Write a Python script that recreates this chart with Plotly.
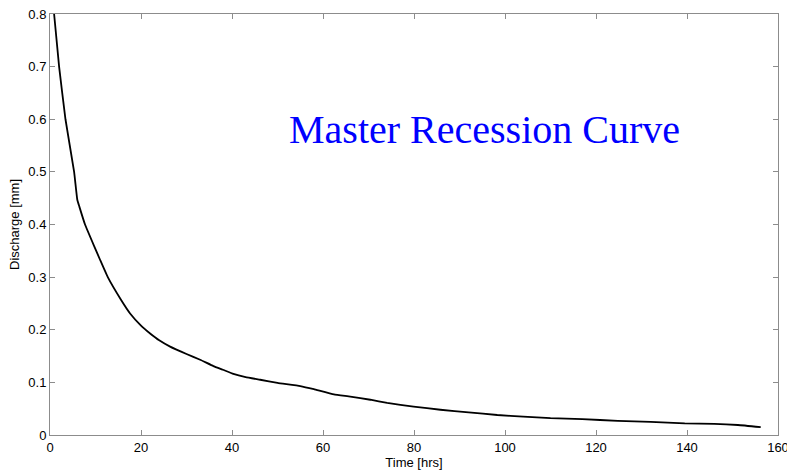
import plotly.graph_objects as go

time_hrs = [0.9, 2.0, 3.4, 5.3, 6.0, 6.45, 7.7, 9.75, 11.0, 12.7, 15.6, 17.6, 20.0, 22.0, 24.0,
            26.4, 30.0, 33.0, 35.9, 38.0, 40.3, 43.0, 46.2, 50.0, 55.0, 58.0, 62.4, 66.0,
            70.4, 74.1, 79.9, 85.8, 92.0, 98.3, 104.0, 110.0, 117.0, 124.8, 132.0, 139.5,
            146.0, 151.2, 156.2]
discharge_mm = [0.800, 0.700, 0.600, 0.500, 0.447, 0.434, 0.400, 0.358, 0.333, 0.300, 0.257,
                0.231, 0.208, 0.193, 0.180, 0.168, 0.154, 0.143, 0.131, 0.124, 0.116, 0.110,
                0.105, 0.099, 0.093, 0.087, 0.077, 0.073, 0.067, 0.061, 0.054, 0.048, 0.043,
                0.038, 0.035, 0.032, 0.030, 0.027, 0.025, 0.022, 0.021, 0.019, 0.015]

x_ticks = [0, 20, 40, 60, 80, 100, 120, 140, 160]
y_ticks = [0, 0.1, 0.2, 0.3, 0.4, 0.5, 0.6, 0.7, 0.8]
y_tick_text = ["0", "0.1", "0.2", "0.3", "0.4", "0.5", "0.6", "0.7", "0.8"]

fig = go.Figure()
fig.add_trace(go.Scatter(x=time_hrs, y=discharge_mm, mode="lines",
                         line=dict(color="black", width=1.8, shape="spline", smoothing=0.3),
                         showlegend=False, cliponaxis=True))

fig.add_annotation(x=95.5, y=0.58, xref="x", yref="y", text="Master Recession Curve",
                   showarrow=False, font=dict(family="Liberation Serif", size=40, color="#0000ff"))

axis_common = dict(showline=True, linecolor="#8c8c8c", linewidth=1, mirror="ticks",
                   ticks="inside", ticklen=5, tickcolor="#8c8c8c", showgrid=False, zeroline=False,
                   ticklabeloverflow="allow", automargin=False,
                   tickfont=dict(family="Liberation Sans", size=13, color="black"))

fig.update_xaxes(range=[0, 160], tickvals=x_ticks, title=dict(text="Time [hrs]", standoff=3,
                 font=dict(family="Liberation Sans", size=13, color="black")), **axis_common)
fig.update_yaxes(range=[0, 0.8], tickvals=y_ticks, ticktext=y_tick_text,
                 title=dict(text="Discharge [mm]", standoff=5,
                            font=dict(family="Liberation Sans", size=13, color="black")), **axis_common)

fig.update_layout(width=787, height=475, margin=dict(l=50, r=9, t=14, b=40, autoexpand=False),
                  paper_bgcolor="white", plot_bgcolor="white")

fig.write_html("out.html")
